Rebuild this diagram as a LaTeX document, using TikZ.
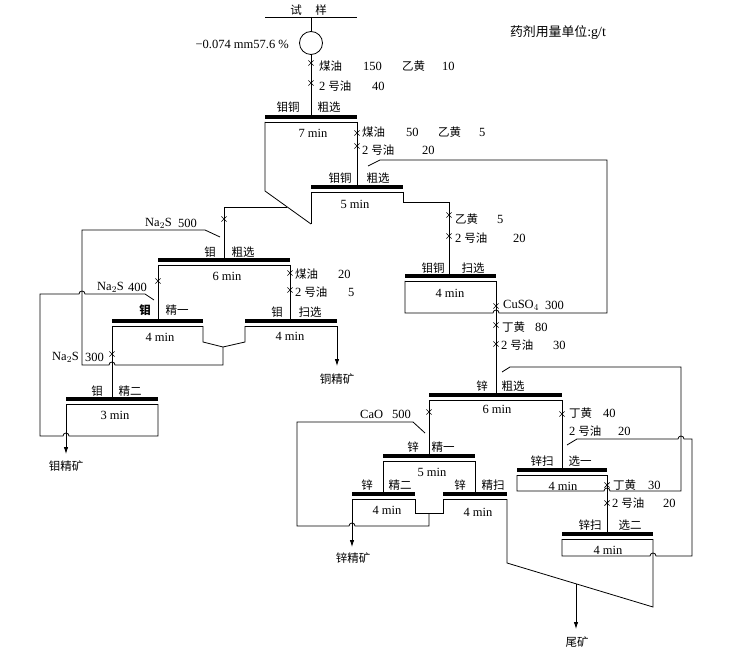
\documentclass[tikz,border=0pt]{standalone}
\usepackage{fontspec}
\setmainfont{Liberation Serif}
\newfontfamily\cjk{Noto Sans CJK SC}[Scale=0.92]
\usetikzlibrary{shapes.misc,arrows.meta}
\newcommand\zh[1]{{\cjk #1}}
\newcommand\fcell[3]{\draw[bar] (#1,#3) -- (#2,#3); \draw[ln] (#1,#3+5) -- (#2,#3+5);}
\tikzset{
  ln/.style={line width=0.8pt},
  bar/.style={line width=3.5pt},
  arr/.style={ln,-{Latex[length=7pt,width=4.5pt]}},
  xm/.style={cross out,draw,minimum size=4.5pt,inner sep=0pt,line width=0.7pt},
  lb/.style={inner sep=0pt},
  lw/.style={inner sep=0pt,anchor=west},
  every node/.style={font=\fontsize{12.5}{14}\selectfont},
}
\begin{document}
\begin{tikzpicture}[x=1pt,y=-1pt]
\useasboundingbox (0,0) rectangle (748,650);
% title
\node[lb,font=\fontsize{14}{16}\selectfont] (title) at (558,33) {\zh{药剂用量单位}:g/t};
% feed
\node[lb] (ts1) at (296,10) {\zh{试}};
\node[lb] (ts2) at (321,10) {\zh{样}};
\draw[ln] (265,17) -- (357,17);
\draw[ln] (311,17) -- (311,31.5);
\draw[ln] (311,43) circle[radius=11.5pt];
\draw[ln] (311,54.5) -- (311,117);
\node[lb,anchor=east] (size) at (289,44) {−0.074 mm57.6 \%};
\node[lw] (r1a) at (319,66) {\zh{煤油}};
\node[lw] (r1b) at (363,66) {150};
\node[lw] (r1c) at (402,66) {\zh{乙黄}};
\node[lw] (r1d) at (442,66) {10};
\node[lw] (r1e) at (319,86) {2\hspace{3pt}\zh{号油}};
\node[lw] (r1f) at (372,86) {40};

% Cu-Mo rougher 1
\fcell{265}{357}{117}
\node[lb] (l1a) at (288,107) {\zh{钼铜}};
\node[lb] (l1b) at (329,107) {\zh{粗选}};
\node[lb] (t1) at (313,133) {7 min};
\draw[ln] (265,122) -- (265,191) -- (311,224);
\draw[ln] (357,122) -- (357,187);
\node[lw] (r2a) at (362,132) {\zh{煤油}};
\node[lw] (r2b) at (406,132) {50};
\node[lw] (r2c) at (438,132) {\zh{乙黄}};
\node[lw] (r2d) at (479,132) {5};
\node[lw] (r2e) at (362,150) {2\hspace{3pt}\zh{号油}};
\node[lw] (r2f) at (422,150) {20};

% Cu-Mo rougher 2
\fcell{311}{403}{187}
\node[lb] (l2a) at (340,178) {\zh{钼铜}};
\node[lb] (l2b) at (378,178) {\zh{粗选}};
\node[lb] (t2) at (355,204) {5 min};
\draw[ln] (311,192) -- (311,224);
\draw[ln] (403,192) -- (403,202) -- (449,202) -- (449,276);
\node[lw] (r3a) at (455,219) {\zh{乙黄}};
\node[lw] (r3b) at (497,219) {5};
\node[lw] (r3c) at (455,238) {2\hspace{3pt}\zh{号油}};
\node[lw] (r3d) at (513,238) {20};
\draw[ln] (287.3,207) -- (224,207) -- (224,260);

% Cu-Mo scavenger
\fcell{405}{496}{276}
\node[lb] (l3a) at (433,268) {\zh{钼铜}};
\node[lb] (l3b) at (473,268) {\zh{扫选}};
\node[lb] (t3) at (450,293) {4 min};
\draw[ln] (405,281) -- (405,313) -- (493,313) arc[start angle=180,end angle=0,radius=3pt] -- (607,313) -- (607,160) -- (380,160) -- (368,166);
\draw[ln] (496,281) -- (496,395);
\node[lw] (r4a) at (503,305) {CuSO$_4$};
\node[lw] (r4b) at (545,305) {300};
\node[lw] (r4c) at (502,327) {\zh{丁黄}};
\node[lw] (r4d) at (535,327) {80};
\node[lw] (r4e) at (501,345) {2\hspace{3pt}\zh{号油}};
\node[lw] (r4f) at (553,345) {30};

% Mo rougher
\fcell{158}{290}{260}
\node[lb] (l4a) at (210,252) {\zh{钼}};
\node[lb] (l4b) at (243,252) {\zh{粗选}};
\node[lb] (t4) at (227,276) {6 min};
\draw[ln] (158,265) -- (158,321);
\draw[ln] (290,265) -- (290,321);
\node[lw] (r5a) at (295,274) {\zh{煤油}};
\node[lw] (r5b) at (338,274) {20};
\node[lw] (r5c) at (295,292) {2\hspace{3pt}\zh{号油}};
\node[lw] (r5d) at (348,292) {5};
\node[lw] (n5a) at (145,223) {Na$_2$S};
\node[lw] (n5b) at (178,223) {500};

% Mo cleaner 1 and Mo scavenger
\fcell{112}{203}{321}
\fcell{245}{337}{321}
\node[lb] (l5a) at (145,310) {\zh{\bfseries 钼}};
\node[lb] (l5b) at (177,310) {\zh{精一}};
\node[lb] (t5) at (160,337) {4 min};
\node[lb] (l6a) at (277,312) {\zh{钼}};
\node[lb] (l6b) at (310,312) {\zh{扫选}};
\node[lb] (t6) at (290,336) {4 min};
\node[lw] (n4a) at (97,287) {Na$_2$S};
\node[lw] (n4b) at (128,287) {400};
\node[lw] (n3a) at (52,357) {Na$_2$S};
\node[lw] (n3b) at (85,357) {300};
\draw[ln] (112,326) -- (112,399);
\draw[ln] (203,326) -- (203,342) -- (223,347) -- (245,342) -- (245,326);
\draw[ln] (223,347) -- (223,365) -- (115,365) arc[start angle=0,end angle=180,radius=3pt] -- (82,365) -- (82,230) -- (205,230) -- (220,237);
\draw[arr] (337,326) -- (337,366);
\node[lb] (cuc) at (337,379) {\zh{铜精矿}};

% Mo cleaner 2
\fcell{66}{158}{399}
\node[lb] (l7a) at (97,391) {\zh{钼}};
\node[lb] (l7b) at (130,391) {\zh{精二}};
\node[lb] (t7) at (115,415) {3 min};
\draw[arr] (66,404) -- (66,454);
\node[lb] (moc) at (66,466) {\zh{钼精矿}};
\draw[ln] (158,404) -- (158,436) -- (69,436) arc[start angle=0,end angle=180,radius=3pt] -- (40,436) -- (40,294) -- (79,294) arc[start angle=180,end angle=0,radius=3pt] -- (145,294) -- (154,300);

% Zn rougher
\fcell{429}{562}{395}
\node[lb] (l8a) at (482,386) {\zh{锌}};
\node[lb] (l8b) at (513,386) {\zh{粗选}};
\node[lb] (t8) at (497,409) {6 min};
\draw[ln] (429,400) -- (429,456);
\draw[ln] (562,400) -- (562,470);
\node[lw] (r6a) at (569,413) {\zh{丁黄}};
\node[lw] (r6b) at (603,413) {40};
\node[lw] (r6c) at (569,431) {2\hspace{3pt}\zh{号油}};
\node[lw] (r6d) at (618,431) {20};

% Zn scavenger 1
\fcell{517}{607}{470}
\node[lb] (l9a) at (542,461) {\zh{锌扫}};
\node[lb] (l9b) at (580,461) {\zh{选一}};
\node[lb] (t9) at (563,486) {4 min};
\draw[ln] (517,475) -- (517,491) -- (604,491) arc[start angle=180,end angle=0,radius=3pt] -- (681,491) -- (681,367) -- (510,367) -- (502,372);
\draw[ln] (607,475) -- (607,534);
\node[lw] (r7a) at (613,485) {\zh{丁黄}};
\node[lw] (r7b) at (648,485) {30};
\node[lw] (r7c) at (612,503) {2\hspace{3pt}\zh{号油}};
\node[lw] (r7d) at (663,503) {20};

% Zn scavenger 2
\fcell{562}{653}{534}
\node[lb] (l10a) at (590,525) {\zh{锌扫}};
\node[lb] (l10b) at (630,525) {\zh{选二}};
\node[lb] (t10) at (608,550) {4 min};
\draw[ln] (562,539) -- (562,556) -- (650,556) arc[start angle=180,end angle=0,radius=3pt] -- (692,556) -- (692,439) -- (684,439) arc[start angle=0,end angle=180,radius=3pt] -- (577,439) -- (567,445);
\draw[ln] (653,539) -- (653,607) -- (507,563) -- (507,499);
\draw[arr] (576,584.1) -- (576,629);
\node[lb] (tail) at (577,642) {\zh{尾矿}};

% Zn cleaner 1
\fcell{383}{475}{456}
\node[lb] (l11a) at (413,447) {\zh{锌}};
\node[lb] (l11b) at (443,447) {\zh{精一}};
\node[lb] (t11) at (432,472) {5 min};
\draw[ln] (383,461) -- (383,494);
\draw[ln] (475,461) -- (475,494);
\node[lw] (c5a) at (360,414) {CaO};
\node[lw] (c5b) at (392,414) {500};

% Zn cleaner 2 and cleaner scavenger
\fcell{352}{415}{494}
\fcell{443}{507}{494}
\node[lb] (l12a) at (367,485) {\zh{锌}};
\node[lb] (l12b) at (400,485) {\zh{精二}};
\node[lb] (t12) at (387,510) {4 min};
\node[lb] (l13a) at (460,485) {\zh{锌}};
\node[lb] (l13b) at (493,485) {\zh{精扫}};
\node[lb] (t13) at (478,512) {4 min};
\draw[arr] (352,499) -- (352,547);
\node[lb] (znc) at (353,558) {\zh{锌精矿}};
\draw[ln] (415,499) -- (415,513) -- (443,513) -- (443,499);
\draw[ln] (429,513) -- (429,526) -- (355,526) arc[start angle=0,end angle=180,radius=3pt] -- (297,526) -- (297,422) -- (413,422) -- (425,433);

% reagent addition marks
\foreach \p [count=\i] in {(311,63),(311,83),(357,133),(357,146),(449,215),(449,236),(224,219),(290,273),(290,290),(158,281),(112,354),(496,306),(496,325),(496,344),(429,412),(562,414),(607,485),(607,503)}
  \node[xm] (x\i) at \p {};
\end{tikzpicture}
\end{document}
